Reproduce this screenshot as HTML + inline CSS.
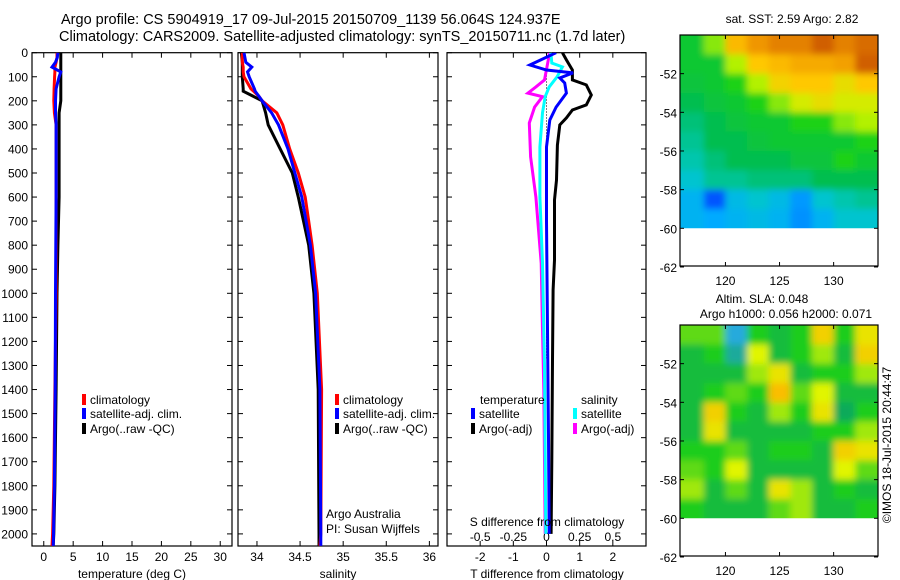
<!DOCTYPE html>
<html><head><meta charset="utf-8"><style>
html,body{margin:0;padding:0;background:#fff;}
svg{display:block;font-family:"Liberation Sans",sans-serif;}
text{fill:#000;}
</style></head><body>
<svg id="fig" width="900" height="580" viewBox="0 0 900 580" xmlns="http://www.w3.org/2000/svg">
<text x="61" y="24" font-size="14.5">Argo profile: CS 5904919_17 09-Jul-2015 20150709_1139 56.064S 124.937E</text>
<text x="59" y="41" font-size="14.5">Climatology: CARS2009. Satellite-adjusted climatology: synTS_20150711.nc (1.7d later)</text>
</svg>
<script>
// ---- data ----
const depthTicks=[0,100,200,300,400,500,600,700,800,900,1000,1100,1200,1300,1400,1500,1600,1700,1800,1900,2000];
const tTicks=[0,5,10,15,20,25,30];
const sTicks=[34,34.5,35,35.5,36];
const dTTicks=[-2,-1,0,1,2];
const dSTicks=[-0.5,-0.25,0,0.25,0.5];
const dSLabels=["-0.5","-0.25","0","0.25","0.5"];
const latTicks=[-52,-54,-56,-58,-60,-62];
const lonTicks=[120,125,130];

const tDepth=[0,20,40,60,80,100,150,200,250,300,400,600,800,1000,1400,1800,2000,2050];
const tArgo=[2.9,2.9,2.9,2.9,2.9,2.9,2.9,2.9,2.6,2.6,2.6,2.6,2.4,2.25,2.1,1.9,1.7,1.6];
const tClim=[2.25,2.25,2.1,1.9,1.9,1.85,1.75,1.7,1.8,2.1,2.1,2.1,2.1,2.1,1.9,1.7,1.5,1.4];
const tSat=[2.4,2.3,2.0,1.4,2.9,2.6,2.1,2.0,2.0,2.1,2.1,2.1,2.05,2.0,1.95,1.8,1.65,1.6];

const sDepth=[0,40,60,80,100,150,160,180,200,250,300,400,500,600,700,800,1000,1400,2000,2050];
const sArgo=[33.82,33.83,33.83,33.83,33.83,33.84,33.84,33.95,34.06,34.10,34.13,34.27,34.41,34.48,34.54,34.60,34.66,34.71,34.72,34.72];
const sClim=[33.83,33.83,33.84,33.84,33.85,33.93,33.96,34.02,34.06,34.23,34.30,34.38,34.48,34.56,34.60,34.64,34.70,34.75,34.74,34.73];
const sSat=[33.85,33.87,33.94,33.89,33.91,33.97,33.98,34.02,34.06,34.17,34.25,34.36,34.44,34.52,34.57,34.62,34.68,34.73,34.74,34.74];

const dtArgoDepth=[0,30,72,113,134,176,217,238,271,300,384,529,612,862,986,1277,1700,2000];
const dtArgo=[0.48,0.6,0.78,0.78,1.2,1.35,1.2,0.78,0.6,0.4,0.33,0.3,0.24,0.24,0.2,0.18,0.16,0.14];
const dtSatDepth=[0,51,72,84,105,126,168,226,280,392,700,1152,1600,2000];
const dtSat=[0.29,-0.5,0.0,0.8,0.4,0.55,0.6,0.29,0.1,0.0,0.0,0.03,0.06,0.08];
const dsSatDepth=[0,10,43,59,100,142,183,250,392,600,875,1300,2000];
const dsSat=[0.03,0.035,0.04,0.12,0.08,0.02,-0.01,-0.03,-0.05,-0.05,-0.03,-0.015,-0.005];
const dsArgoDepth=[0,10,113,142,168,183,226,292,433,600,875,1152,1400,2000];
const dsArgo=[0.02,0.02,-0.015,-0.08,-0.14,-0.03,-0.09,-0.13,-0.12,-0.08,-0.04,-0.03,-0.02,-0.01];

const sstGrid=[
[0.50,0.60,0.75,0.82,0.85,0.85,0.90,0.85,0.88],
[0.50,0.50,0.62,0.72,0.75,0.78,0.78,0.80,0.90],
[0.48,0.50,0.55,0.62,0.70,0.72,0.72,0.68,0.72],
[0.45,0.48,0.50,0.55,0.60,0.65,0.68,0.65,0.65],
[0.42,0.45,0.48,0.50,0.50,0.55,0.55,0.60,0.62],
[0.40,0.45,0.45,0.48,0.50,0.50,0.50,0.50,0.55],
[0.38,0.42,0.45,0.45,0.45,0.48,0.48,0.55,0.50],
[0.35,0.40,0.40,0.42,0.42,0.42,0.45,0.45,0.45],
[0.30,0.18,0.32,0.35,0.32,0.26,0.35,0.38,0.40],
[0.30,0.28,0.30,0.32,0.30,0.25,0.30,0.35,0.35]];
const slaGrid=[
[0.55,0.55,0.20,0.50,0.45,0.50,0.75,0.50,0.70],
[0.45,0.50,0.30,0.65,0.45,0.50,0.60,0.45,0.75],
[0.45,0.45,0.45,0.60,0.70,0.45,0.50,0.50,0.60],
[0.45,0.50,0.55,0.50,0.80,0.55,0.65,0.45,0.45],
[0.45,0.75,0.50,0.45,0.60,0.50,0.70,0.40,0.50],
[0.45,0.70,0.45,0.45,0.45,0.45,0.50,0.50,0.60],
[0.50,0.50,0.55,0.45,0.50,0.50,0.45,0.75,0.70],
[0.55,0.50,0.65,0.45,0.45,0.45,0.45,0.65,0.55],
[0.60,0.45,0.55,0.45,0.70,0.60,0.45,0.50,0.45],
[0.50,0.45,0.45,0.45,0.55,0.60,0.45,0.45,0.50]];

// ---- drawing ----
const svg=document.getElementById('fig');
const NS='http://www.w3.org/2000/svg';
const FS=12;
function mk(tag,attrs,parent){const e=document.createElementNS(NS,tag);for(const k in attrs)e.setAttribute(k,attrs[k]);(parent||svg).appendChild(e);return e;}
function txt(s,x,y,anchor,size,parent){const t=mk('text',{x:x,y:y,'text-anchor':anchor||'start','font-size':size||FS},parent);t.textContent=s;return t;}

const Y0=52.7, YPX=0.2406, BOT=546;
const yD=d=>Y0+d*YPX;
const panels=[
 {x0:32,x1:232,dom:[-2,32],name:'temperature-panel'},
 {x0:238,x1:438,dom:[33.78,36.1],name:'salinity-panel'},
 {x0:447,x1:646,dom:[-3,3],name:'difference-panel'}];
panels.forEach(p=>{p.sx=v=>p.x0+(v-p.dom[0])/(p.dom[1]-p.dom[0])*(p.x1-p.x0);});

const defs=mk('defs',{});
panels.forEach((p,i)=>{
  const cp=mk('clipPath',{id:'cp'+i},defs);
  mk('rect',{x:p.x0,y:Y0,width:p.x1-p.x0,height:BOT-Y0},cp);
});

function line(p,i,vals,depths,color,name,sx){
  const f=sx||p.sx;
  const pts=vals.map((v,k)=>f(v).toFixed(1)+','+yD(depths[k]).toFixed(1)).join(' ');
  const el=mk('polyline',{points:pts,fill:'none',stroke:color,'stroke-width':3,'clip-path':'url(#cp'+i+')'});
  
  
}

panels.forEach((p,i)=>{
  const g=mk('g',{});
  
  
  mk('rect',{x:p.x0,y:Y0,width:p.x1-p.x0,height:BOT-Y0,fill:'none',stroke:'#000','stroke-width':1.2},g);
  depthTicks.forEach(d=>{
    mk('line',{x1:p.x0,x2:p.x0+5,y1:yD(d),y2:yD(d),stroke:'#000'},g);
    mk('line',{x1:p.x1,x2:p.x1-5,y1:yD(d),y2:yD(d),stroke:'#000'},g);
    if(i===0){const t=txt(String(d),28,yD(d)+4.5,'end',FS,g);
      
      }
  });
});
function xticks(p,ticks,labels,ly){
  ticks.forEach((v,k)=>{
    const x=p.sx(v);
    mk('line',{x1:x,x2:x,y1:BOT,y2:BOT-5,stroke:'#000'});
    mk('line',{x1:x,x2:x,y1:Y0,y2:Y0+5,stroke:'#000'});
    const t=txt(labels?labels[k]:String(v),x,ly,'middle',FS);
    
    
  });
}
xticks(panels[0],tTicks,null,561);
xticks(panels[1],sTicks,null,561);
xticks(panels[2],dTTicks,null,561);
const sxS=v=>panels[2].sx(v*4);
dSTicks.forEach((v,k)=>{const t=txt(dSLabels[k],sxS(v),541,'middle',FS);
  
  });

line(panels[0],0,tArgo,tDepth,'#000','temp-argo-line');
line(panels[0],0,tClim,tDepth,'#f00','temp-climatology-line');
line(panels[0],0,tSat,tDepth,'#00f','temp-satellite-line');
line(panels[1],1,sArgo,sDepth,'#000','sal-argo-line');
line(panels[1],1,sClim,sDepth,'#f00','sal-climatology-line');
line(panels[1],1,sSat,sDepth,'#00f','sal-satellite-line');
mk('line',{x1:panels[2].sx(0),x2:panels[2].sx(0),y1:yD(70),y2:yD(1270),stroke:'#000','stroke-dasharray':'1,2'});
line(panels[2],2,dtArgo,dtArgoDepth,'#000','tdiff-argo-line');
line(panels[2],2,dsArgo,dsArgoDepth,'#f0f','sdiff-argo-line',sxS);
line(panels[2],2,dsSat,dsSatDepth,'#0ff','sdiff-satellite-line',sxS);
line(panels[2],2,dtSat,dtSatDepth,'#00f','tdiff-satellite-line');

function leg(x,y,color,label,name){
  mk('rect',{x:x-2,y:y-10,width:4,height:11,fill:color});
  const t=txt(label,x+6,y,'start',FS);
  
  
}
leg(84,404,'#f00','climatology','legend-climatology');
leg(84,418,'#00f','satellite-adj. clim.','legend-satellite-adj');
leg(84,433,'#000','Argo(..raw -QC)','legend-argo');
leg(337,404,'#f00','climatology','legend-climatology-2');
leg(337,418,'#00f','satellite-adj. clim.','legend-satellite-adj-2');
leg(337,433,'#000','Argo(..raw -QC)','legend-argo-2');
txt('temperature',480,404,'start',FS);
txt('salinity',581,404,'start',FS);
leg(473,418,'#00f','satellite','legend-t-satellite');
leg(473,433,'#000','Argo(-adj)','legend-t-argo');
leg(575,418,'#0ff','satellite','legend-s-satellite');
leg(575,433,'#f0f','Argo(-adj)','legend-s-argo');
txt('Argo Australia',326,518,'start',FS);
txt('PI: Susan Wijffels',326,533,'start',FS);
txt('S difference from climatology',547,526,'middle',FS);
txt('temperature (deg C)',132,578,'middle',FS);
txt('salinity',338,578,'middle',FS);
txt('T difference from climatology',547,578,'middle',FS);

function cmapSST(v){
  const st=[[0,[0,0,140]],[0.15,[0,60,255]],[0.28,[0,170,255]],[0.36,[0,200,200]],[0.45,[0,190,80]],[0.55,[30,210,20]],[0.63,[200,245,0]],[0.72,[255,200,0]],[0.82,[240,150,0]],[0.92,[200,80,0]],[1,[170,40,0]]];
  return interp(st,v);
}
function cmapSLA(v){
  const st=[[0,[0,80,255]],[0.2,[40,170,220]],[0.4,[16,170,90]],[0.5,[30,205,30]],[0.65,[225,245,0]],[0.8,[250,190,0]],[1,[240,120,0]]];
  return interp(st,v);
}
function interp(st,v){
  for(let i=1;i<st.length;i++){if(v<=st[i][0]){const a=st[i-1],b=st[i],t=(v-a[0])/(b[0]-a[0]);
    return 'rgb('+a[1].map((c,k)=>Math.round(c+(b[1][k]-c)*t)).join(',')+')';}}
  return 'rgb('+st[st.length-1][1].join(',')+')';
}
const flt=mk('filter',{id:'blur',x:'-5%',y:'-5%',width:'110%',height:'110%'},defs);
mk('feGaussianBlur',{stdDeviation:3.5},flt);

function map(box,grid,cmap,name,idx){
  const lon0=115.8,lon1=134.1,lat0=-50,lat1=-61.95;
  const sx=l=>box.x0+(l-lon0)/(lon1-lon0)*(box.x1-box.x0);
  const sy=l=>box.y0+(l-lat0)/(lat1-lat0)*(box.y1-box.y0);
  const cp=mk('clipPath',{id:'mc'+idx},defs);
  mk('rect',{x:box.x0,y:box.y0,width:box.x1-box.x0,height:sy(-60)-box.y0},cp);
  const g=mk('g',{'clip-path':'url(#mc'+idx+')'});
  
  
  const inner=mk('g',{filter:'url(#blur)'},g);
  grid.forEach((row,r)=>row.forEach((v,c)=>{
    const x=sx(116+c*2)-(c===0?12:0), w=sx(118+c*2)-sx(116+c*2)+(c===0?12:0)+(c===8?12:0);
    const y=sy(-50-r)-(r===0?12:0), h=sy(-51-r)-sy(-50-r)+(r===0?12:0)+(r===9?12:0);
    const cell=mk('rect',{x:x,y:y,width:w+0.5,height:h+0.5,fill:cmap(v)},inner);
    
    
  }));
  mk('rect',{x:box.x0,y:box.y0,width:box.x1-box.x0,height:box.y1-box.y0,fill:'none',stroke:'#000','stroke-width':1.2});
  latTicks.forEach(l=>{const y=sy(l);
    mk('line',{x1:box.x0,x2:box.x0+4,y1:y,y2:y,stroke:'#000'});
    mk('line',{x1:box.x1,x2:box.x1-4,y1:y,y2:y,stroke:'#000'});
    const t=txt(String(l),box.x0-3,y+5,'end',FS);
    
    });
  lonTicks.forEach(l=>{const x=sx(l);
    mk('line',{x1:x,x2:x,y1:box.y0,y2:box.y0+4,stroke:'#000'});
    mk('line',{x1:x,x2:x,y1:box.y1,y2:box.y1-4,stroke:'#000'});
    const t=txt(String(l),x,box.y1+19,'middle',FS);
    
    });
}
map({x0:680,x1:878,y0:35,y1:266},sstGrid,cmapSST,'sst-map',0);
map({x0:680,x1:878,y0:325,y1:556},slaGrid,cmapSLA,'sla-map',1);
txt('sat. SST: 2.59 Argo: 2.82',792,23,'middle',FS);
txt('Altim. SLA: 0.048',762,303,'middle',FS);
txt('Argo h1000: 0.056 h2000: 0.071',786,318,'middle',FS);
const cr=txt('©IMOS 18-Jul-2015 20:44:47',0,0,'middle',FS);
cr.setAttribute('transform','translate(891,445) rotate(-90)');
</script>
</body></html>
